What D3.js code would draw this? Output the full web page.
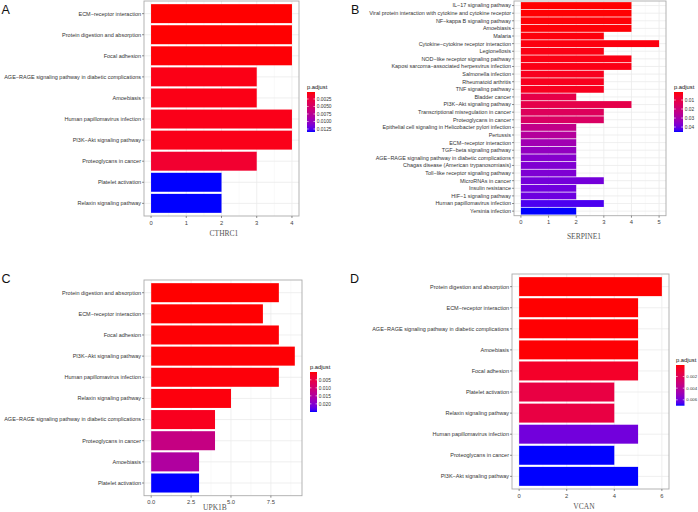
<!DOCTYPE html>
<html><head><meta charset="utf-8">
<script src="https://cdn.jsdelivr.net/npm/d3@7"></script>
<style>body{margin:0;background:#fff}svg{display:block}</style>
</head><body>
<svg id="c" width="698" height="512"></svg>
<script>
// ---------- Panel A (CTHRC1) ----------
const catsA = ["ECM−receptor interaction","Protein digestion and absorption","Focal adhesion","AGE−RAGE signaling pathway in diabetic complications","Amoebiasis","Human papillomavirus infection","PI3K−Akt signaling pathway","Proteoglycans in cancer","Platelet activation","Relaxin signaling pathway"];
const countA = [4,4,4,3,3,4,4,3,2,2];
const padjA = [0.00017,0.0002,0.0003,0.0007,0.0007,0.0008,0.0008,0.0018,0.0135,0.0135];
const xTicksA = [0,1,2,3,4];
const xTickLabelsA = ["0","1","2","3","4"];
const legValsA = [0.0025,0.005,0.0075,0.01,0.0125];
const legLabelsA = ["0.0025","0.0050","0.0075","0.0100","0.0125"];

// ---------- Panel B (SERPINE1) ----------
const catsB = ["IL−17 signaling pathway","Viral protein interaction with cytokine and cytokine receptor","NF−kappa B signaling pathway","Amoebiasis","Malaria","Cytokine−cytokine receptor interaction","Legionellosis","NOD−like receptor signaling pathway","Kaposi sarcoma−associated herpesvirus infection","Salmonella infection","Rheumatoid arthritis","TNF signaling pathway","Bladder cancer","PI3K−Akt signaling pathway","Transcriptional misregulation in cancer","Proteoglycans in cancer","Epithelial cell signaling in Helicobacter pylori infection","Pertussis","ECM−receptor interaction","TGF−beta signaling pathway","AGE−RAGE signaling pathway in diabetic complications","Chagas disease (American trypanosomiasis)","Toll−like receptor signaling pathway","MicroRNAs in cancer","Insulin resistance","HIF−1 signaling pathway","Human papillomavirus infection","Yersinia infection"];
const countB = [4,4,4,4,3,5,3,4,4,3,3,3,2,4,3,3,2,2,2,2,2,2,2,3,2,2,3,2];
const padjB = [0.0011,0.0013,0.0015,0.0016,0.0020,0.0022,0.0027,0.0027,0.0029,0.0038,0.0038,0.0040,0.0109,0.0113,0.0144,0.0158,0.0233,0.0269,0.0313,0.0340,0.0362,0.0371,0.0375,0.0388,0.0393,0.0397,0.0428,0.0455];
const xTicksB = [0,1,2,3,4,5];
const xTickLabelsB = ["0","1","2","3","4","5"];
const legValsB = [0.01,0.02,0.03,0.04];
const legLabelsB = ["0.01","0.02","0.03","0.04"];

// ---------- Panel C (UPK1B) ----------
const catsC = ["Protein digestion and absorption","ECM−receptor interaction","Focal adhesion","PI3K−Akt signaling pathway","Human papillomavirus infection","Relaxin signaling pathway","AGE−RAGE signaling pathway in diabetic complications","Proteoglycans in cancer","Amoebiasis","Platelet activation"];
const countC = [8,7,8,9,8,5,4,4,3,3];
const padjC = [0.0001,0.0002,0.0003,0.0003,0.0005,0.0006,0.0016,0.0119,0.0151,0.0251];
const xTicksC = [0,2.5,5,7.5];
const xTickLabelsC = ["0.0","2.5","5.0","7.5"];
const legValsC = [0.005,0.01,0.015,0.02];
const legLabelsC = ["0.005","0.010","0.015","0.020"];

// ---------- Panel D (VCAN) ----------
const catsD = ["Protein digestion and absorption","ECM−receptor interaction","AGE−RAGE signaling pathway in diabetic complications","Amoebiasis","Focal adhesion","Platelet activation","Relaxin signaling pathway","Human papillomavirus infection","Proteoglycans in cancer","PI3K−Akt signaling pathway"];
const countD = [6,5,5,5,5,4,4,5,4,5];
const padjD = [0.00002,0.00003,0.00005,0.00006,0.0007,0.0014,0.0014,0.0060,0.00701,0.00701];
const xTicksD = [0,2,4,6];
const xTickLabelsD = ["0","2","4","6"];
const legValsD = [0.002,0.004,0.006];
const legLabelsD = ["0.002","0.004","0.006"];

const svg = d3.select("#c");
const defs = svg.append("defs");
const SANS = "'Liberation Sans', Arial, sans-serif";
const SERIF = "'Liberation Serif', 'Times New Roman', serif";

function panel(cfg) {
  const g = svg.append("g");
  const xmax = d3.max(cfg.counts);
  const x = d3.scaleLinear().domain([-0.05 * xmax, 1.05 * xmax]).range([cfg.x0, cfg.x1]);
  const y = d3.scalePoint().domain(cfg.cats).range([cfg.y0, cfg.y1]).padding(0.6);
  const color = d3.scaleLinear().domain(d3.extent(cfg.padj)).range(["#FF0000", "#0000FF"]).interpolate(d3.interpolateLab);
  const bh = y.step() * 0.9;

  // grid
  const minor = [];
  for (let i = 0; i < cfg.ticks.length - 1; i++) minor.push((cfg.ticks[i] + cfg.ticks[i + 1]) / 2);
  const stp = cfg.ticks[1] - cfg.ticks[0];
  const extra = cfg.ticks[cfg.ticks.length - 1] + stp / 2;
  if (extra < x.domain()[1]) minor.push(extra);
  g.selectAll(".mn").data(minor).join("line")
    .attr("x1", d => x(d)).attr("x2", d => x(d)).attr("y1", cfg.y0).attr("y2", cfg.y1)
    .attr("stroke", "#F2F2F2").attr("stroke-width", 0.5);
  g.selectAll(".mj").data(cfg.ticks).join("line")
    .attr("x1", d => x(d)).attr("x2", d => x(d)).attr("y1", cfg.y0).attr("y2", cfg.y1)
    .attr("stroke", "#EBEBEB").attr("stroke-width", 0.8);
  g.selectAll(".hg").data(cfg.cats).join("line")
    .attr("x1", cfg.x0).attr("x2", cfg.x1).attr("y1", d => y(d)).attr("y2", d => y(d))
    .attr("stroke", "#EBEBEB").attr("stroke-width", 0.8);

  // bars
  g.selectAll(".bar").data(cfg.cats).join("rect")
    .attr("x", x(0)).attr("y", d => y(d) - bh / 2)
    .attr("width", (d, i) => x(cfg.counts[i]) - x(0)).attr("height", bh)
    .attr("fill", (d, i) => color(cfg.padj[i]));

  // border
  g.append("rect").attr("x", cfg.x0).attr("y", cfg.y0).attr("width", cfg.x1 - cfg.x0).attr("height", cfg.y1 - cfg.y0)
    .attr("fill", "none").attr("stroke", "#ABABAB").attr("stroke-width", 0.9);

  // y axis ticks and labels
  g.selectAll(".yt").data(cfg.cats).join("line")
    .attr("x1", cfg.x0 - 2).attr("x2", cfg.x0).attr("y1", d => y(d)).attr("y2", d => y(d))
    .attr("stroke", "#444").attr("stroke-width", 0.6);
  g.selectAll(".yl").data(cfg.cats).join("text")
    .attr("x", cfg.x0 - 3).attr("y", d => y(d)).attr("dy", "0.35em")
    .attr("text-anchor", "end").attr("font-family", SANS).attr("font-size", cfg.fs)
    .attr("fill", "#333").text(d => d);

  // x axis ticks and labels
  g.selectAll(".xt").data(cfg.ticks).join("line")
    .attr("x1", d => x(d)).attr("x2", d => x(d)).attr("y1", cfg.y1).attr("y2", cfg.y1 + 2)
    .attr("stroke", "#444").attr("stroke-width", 0.6);
  g.selectAll(".xl").data(cfg.ticks).join("text")
    .attr("x", d => x(d)).attr("y", cfg.y1 + 4.5).attr("dy", "0.7em")
    .attr("text-anchor", "middle").attr("font-family", SANS).attr("font-size", 5.8)
    .attr("fill", "#444").text((d, i) => cfg.tickLabels[i]);

  // axis title
  g.append("text").attr("x", cfg.titleX).attr("y", cfg.titleY)
    .attr("text-anchor", "middle").attr("font-family", SERIF).attr("font-size", 7.5)
    .attr("fill", "#555").text(cfg.title);

  // panel letter
  g.append("text").attr("x", cfg.letX).attr("y", cfg.letY)
    .attr("font-family", SANS).attr("font-size", 12.5).attr("fill", "#111").text(cfg.letter);

  // legend
  const ext = d3.extent(cfg.padj);
  const ly = d3.scaleLinear().domain(ext).range([cfg.ly0, cfg.ly1]);
  const gid = "grad" + cfg.letter;
  const grad = defs.append("linearGradient").attr("id", gid).attr("x1", 0).attr("x2", 0).attr("y1", 0).attr("y2", 1);
  d3.range(0, 1.0001, 0.05).forEach(t => {
    grad.append("stop").attr("offset", t).attr("stop-color", color(ext[0] + t * (ext[1] - ext[0])));
  });
  g.append("text").attr("x", cfg.lx).attr("y", cfg.ly0 - 3)
    .attr("font-family", SANS).attr("font-size", 5.8).attr("fill", "#111").text("p.adjust");
  g.append("rect").attr("x", cfg.lx).attr("y", cfg.ly0).attr("width", cfg.lw).attr("height", cfg.ly1 - cfg.ly0)
    .attr("fill", `url(#${gid})`);
  cfg.legVals.forEach((v, i) => {
    const yy = ly(v);
    g.append("line").attr("x1", cfg.lx).attr("x2", cfg.lx + cfg.lw * 0.2).attr("y1", yy).attr("y2", yy).attr("stroke", "#fff").attr("stroke-width", 0.6);
    g.append("line").attr("x1", cfg.lx + cfg.lw * 0.8).attr("x2", cfg.lx + cfg.lw).attr("y1", yy).attr("y2", yy).attr("stroke", "#fff").attr("stroke-width", 0.6);
    g.append("text").attr("x", cfg.lx + cfg.lw + 1.8).attr("y", yy).attr("dy", "0.35em")
      .attr("font-family", SANS).attr("font-size", cfg.lfs).attr("fill", "#333").text(cfg.legLabels[i]);
  });
}

panel({letter: "A", cats: catsA, counts: countA, padj: padjA, ticks: xTicksA, tickLabels: xTickLabelsA,
  legVals: legValsA, legLabels: legLabelsA, title: "CTHRC1",
  x0: 144, x1: 299, y0: 1, y1: 216, fs: 5.5, titleX: 224, titleY: 236,
  letX: 1.5, letY: 14, lx: 307, lw: 8, ly0: 92, ly1: 132, lfs: 4.8});

panel({letter: "B", cats: catsB, counts: countB, padj: padjB, ticks: xTicksB, tickLabels: xTickLabelsB,
  legVals: legValsB, legLabels: legLabelsB, title: "SERPINE1",
  x0: 514, x1: 666, y0: 1, y1: 215.7, fs: 5.45, titleX: 584, titleY: 239,
  letX: 351, letY: 14, lx: 674, lw: 9, ly0: 92, ly1: 132, lfs: 4.8});

panel({letter: "C", cats: catsC, counts: countC, padj: padjC, ticks: xTicksC, tickLabels: xTickLabelsC,
  legVals: legValsC, legLabels: legLabelsC, title: "UPK1B",
  x0: 144, x1: 302, y0: 280, y1: 495.7, fs: 5.5, titleX: 215, titleY: 510,
  letX: 1.5, letY: 283, lx: 310, lw: 7, ly0: 372, ly1: 412, lfs: 4.8});

panel({letter: "D", cats: catsD, counts: countD, padj: padjD, ticks: xTicksD, tickLabels: xTickLabelsD,
  legVals: legValsD, legLabels: legLabelsD, title: "VCAN",
  x0: 512, x1: 669, y0: 274, y1: 489, fs: 5.5, titleX: 584, titleY: 509,
  letX: 350, letY: 283, lx: 676, lw: 8.5, ly0: 365, ly1: 405.7, lfs: 4.3});
</script>
</body></html>
